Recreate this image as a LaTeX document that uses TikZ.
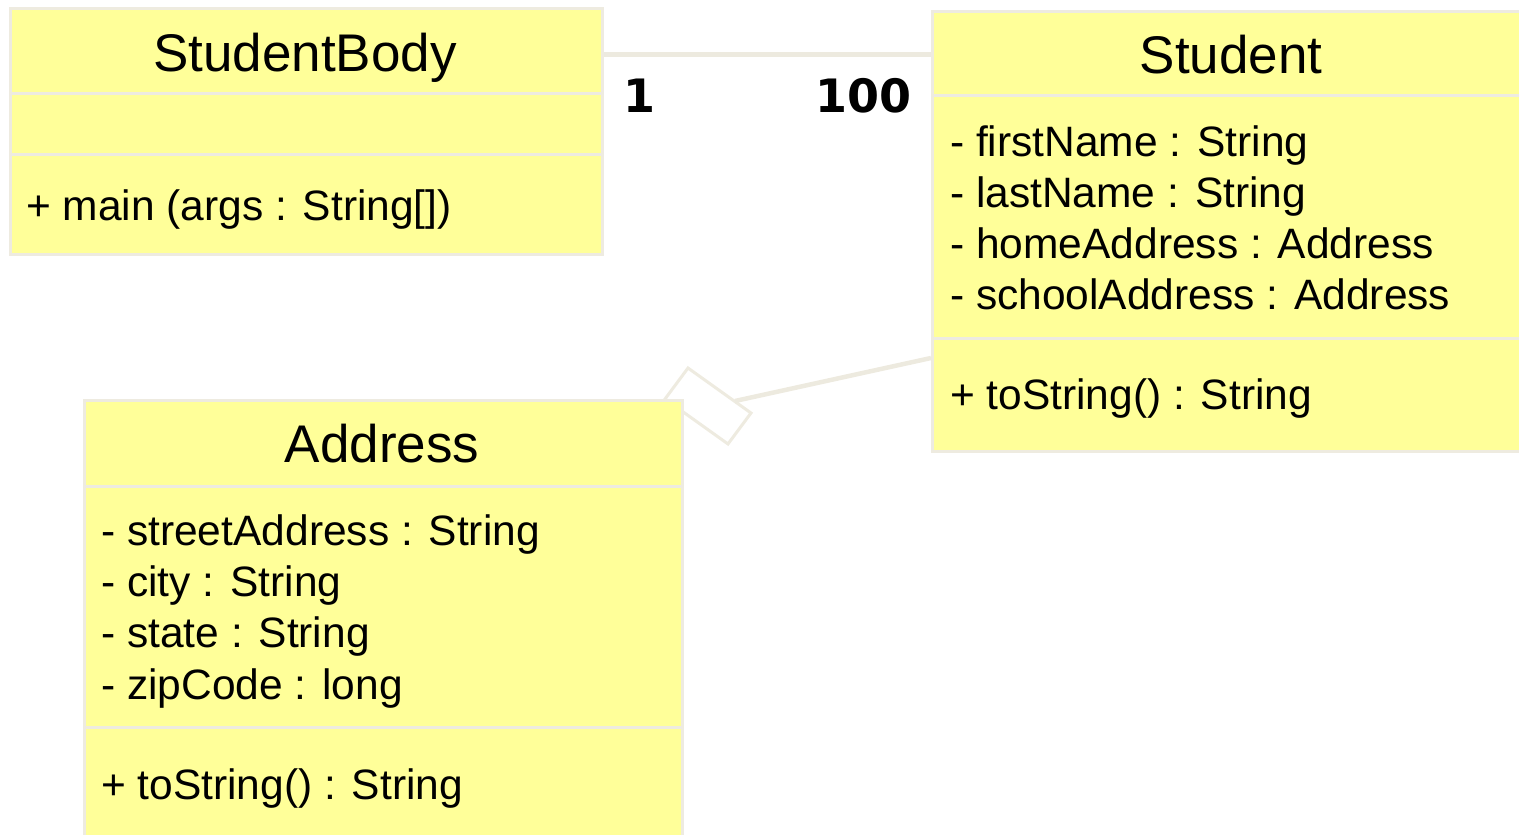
\documentclass[tikz,border=0pt]{standalone}
\usepackage{fontspec}
\setmainfont{Liberation Sans}
\newfontfamily\multfont{DejaVu Sans}
\definecolor{classfill}{HTML}{FFFF99}
\definecolor{classline}{HTML}{EEEBE0}
\definecolor{linkline}{HTML}{EDEADF}
\tikzset{
  classbox/.style={draw=classline, line width=3pt, fill=classfill, inner sep=0pt, anchor=north west},
  divider/.style={draw=classline, line width=3pt},
  classtitle/.style={inner sep=0pt, anchor=base, font=\fontsize{53}{60}\selectfont},
  member/.style={inner sep=0pt, anchor=base west, font=\fontsize{42.5}{51.5}\selectfont},
  mult/.style={inner sep=0pt, anchor=base west, font=\multfont\bfseries\fontsize{46}{52}\selectfont},
  link/.style={draw=linkline, line width=5pt},
  aggmark/.style={draw=classline, line width=3pt, fill=white, line join=miter}
}
\begin{document}
\begin{tikzpicture}[x=1pt, y=-1pt]
\useasboundingbox (0,0) rectangle (1519,835);
\clip (0,0) rectangle (1519,835);

% StudentBody
\node[classbox, minimum width=592pt, minimum height=246pt] (sb) at (9,7) {};
\draw[divider] (sb.west |- 0,93) -- (sb.east |- 0,93);
\draw[divider] (sb.west |- 0,154) -- (sb.east |- 0,154);
\node[classtitle] (sbname) at (305,71) {StudentBody};
\node[member] (sbm1) at (26,220) {+ main (args : String[])};

% Student
\node[classbox, minimum width=600pt, minimum height=440pt] (st) at (931,10) {};
\draw[divider] (st.west |- 0,95) -- (st.east |- 0,95);
\draw[divider] (st.west |- 0,338) -- (st.east |- 0,338);
\node[classtitle] (stname) at (1231,73) {Student};
\node[member] (sta1) at (950,156) {- firstName : String};
\node[member] (sta2) at (950,207) {- lastName : String};
\node[member] (sta3) at (950,258) {- homeAddress : Address};
\node[member] (sta4) at (950,309) {- schoolAddress : Address};
\node[member] (stm1) at (950,409) {+ toString() : String};

% association StudentBody -- Student
\draw[link] (sb.east |- 0,54) -- (st.west |- 0,54);
\node[mult] (mult1) at (623,112) {1};
\node[mult] (mult100) at (815,112) {100};

% aggregation Student -- Address (hollow marker)
\coordinate (agA) at (665,399);
\coordinate (agB) at (688,368);
\coordinate (agC) at (751,413);
\coordinate (agD) at (728,444);
\coordinate (agEnd) at (735,401);
\draw[aggmark] (agA) -- (agB) -- (agC) -- (agD) -- cycle;
\draw[link, line width=4.5pt] (st.west |- 0,358) -- (agEnd);

% Address
\node[classbox, minimum width=598pt, minimum height=450pt] (ad) at (83,399) {};
\draw[divider] (ad.west |- 0,486) -- (ad.east |- 0,486);
\draw[divider] (ad.west |- 0,727) -- (ad.east |- 0,727);
\node[classtitle] (adname) at (382,462) {Address};
\node[member] (ada1) at (101,545) {- streetAddress : String};
\node[member] (ada2) at (101,596) {- city : String};
\node[member] (ada3) at (101,647) {- state : String};
\node[member] (ada4) at (101,699) {- zipCode : long};
\node[member] (adm1) at (101,799) {+ toString() : String};
\end{tikzpicture}
\end{document}
